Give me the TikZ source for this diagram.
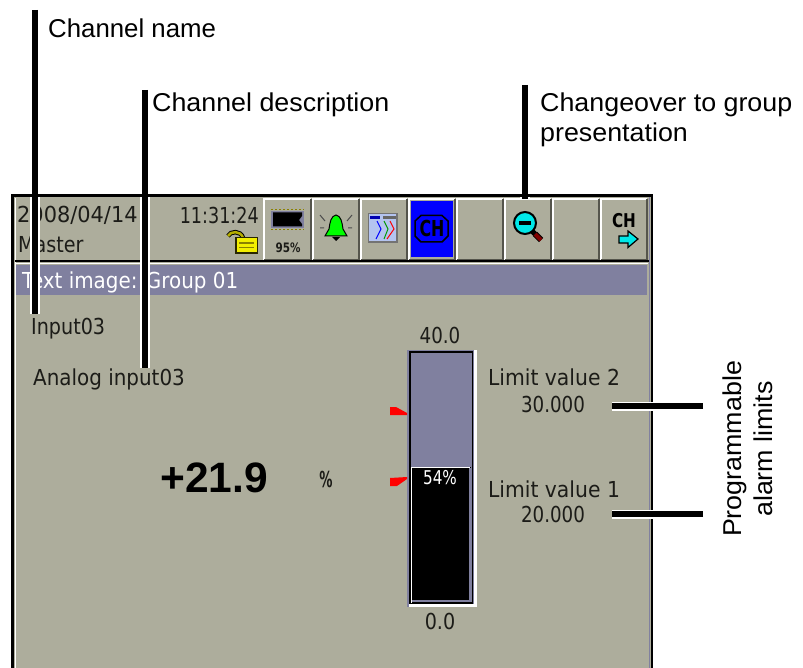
\documentclass[tikz,border=0pt]{standalone}
\usepackage{fontspec}
\setmainfont{Liberation Sans}
\newfontfamily\wideLabel[FakeStretch=1.04]{Liberation Sans}
\newfontfamily\screenfont[FakeStretch=0.87]{DejaVu Sans}
\newfontfamily\screenA[FakeStretch=0.80]{DejaVu Sans}
\newfontfamily\screenB[FakeStretch=0.83]{DejaVu Sans}
\newfontfamily\screenC[FakeStretch=0.905]{DejaVu Sans}
\newfontfamily\screenD[FakeStretch=0.925]{DejaVu Sans}
\newfontfamily\screenE[FakeStretch=0.95]{DejaVu Sans}
\newfontfamily\screenwide{DejaVu Sans}
\definecolor{panel}{HTML}{ADAD9C}
\definecolor{slate}{HTML}{80809F}
\definecolor{ink}{HTML}{1C1C18}
\definecolor{btndark}{HTML}{55554C}
\definecolor{hicyan}{HTML}{00E8E8}
\definecolor{olive}{HTML}{8A8000}
\definecolor{lockyellow}{HTML}{F2EE00}
\definecolor{iconbg}{HTML}{B4C4F0}
\tikzset{
  lbl/.style={font=\fontsize{25.8}{30}\selectfont,inner sep=0pt,text=black},
  lblw/.style={font=\wideLabel\fontsize{25.8}{30}\selectfont,inner sep=0pt,text=black},
  scr/.style={font=\screenfont\fontsize{22}{24}\selectfont,inner sep=0pt,text=ink},
  halo/.style={draw=white,line width=10pt},
  leader/.style={draw=black,line width=5.5pt},
}
\newcommand{\scrsize}{\fontsize{22}{24}\selectfont}
\newcommand{\btnbox}[2]{%
  \fill[panel] (#1,198) rectangle (#2,260);
  \draw[white,line width=1.5pt] (#1+1,260) -- (#1+1,199) -- (#2-1,199);
  \draw[btndark,line width=1.5pt] (#1+1,259.5) -- (#2-1,259.5) -- (#2-1,199);
}
\begin{document}
\begin{tikzpicture}[x=1pt,y=-1pt]
\useasboundingbox (0,0) rectangle (803,668);
\fill[white] (0,0) rectangle (803,668);
% frame
\fill[black] (11,194) rectangle (653,668);
\fill[panel] (14,197) rectangle (651,668);
\draw[slate,line width=1pt] (649.5,197) -- (649.5,668);
\draw[white,line width=1pt] (15,198) -- (15,668);
% status area
\fill[black] (15,260) rectangle (649,262);
\draw[white,line width=1.5pt] (16,263.5) -- (648,263.5);
\btnbox{263}{312}\btnbox{312}{360}\btnbox{360}{408}\btnbox{408}{456}
\btnbox{456}{504}\btnbox{504}{552}\btnbox{552}{600}\btnbox{600}{648}
% title bar
\fill[slate] (16,265) rectangle (647,295);
\node[scr,anchor=west,text=white,font=\screenC\scrsize] (title) at (22,282) {Text image: Group 01};
\node[scr,anchor=west,font=\screenE\scrsize] (date) at (17,215) {2008/04/14};
\node[scr,anchor=east,font=\screenA\scrsize] (time) at (259,215) {11:31:24};
\node[scr,anchor=west] (master) at (18,245) {Master};
% lock
\draw[black,line width=4.5pt] (228,236) .. controls (230,231) and (241,230) .. (243,238);
\draw[olive!60!lockyellow,line width=2.5pt] (228,236) .. controls (230,231) and (241,230) .. (243,238);
\fill[black!70!olive] (235,237) rectangle (258,254);
\fill[lockyellow] (236.5,238.5) rectangle (256.5,252.5);
\draw[olive,line width=1.2pt] (239,243) -- (254,243) (239,247.5) -- (254,247.5);
% memory
\fill[slate] (271,211) rectangle (304,228);
\fill[black] (273,212.5) -- (302,212.5) -- (302,216) -- (299,220) -- (302,224) -- (302,226.5) -- (273,226.5) -- cycle;
\draw[olive,line width=1.2pt,dash pattern=on 2pt off 2pt] (271,209.5) -- (304,209.5) (271,229.5) -- (304,229.5);
\node[font=\screenA\bfseries\fontsize{13}{14}\selectfont,inner sep=0pt,text=ink] (mem) at (288,248) {95\%};
% bell
\fill[green,draw=black,line width=1pt] (336,215) .. controls (341,216) and (342,222) .. (343,229) -- (347,236) -- (325,236) -- (329,229) .. controls (330,222) and (331,216) .. (336,215) -- cycle;
\fill[black] (332,237) -- (340,237) -- (336,241) -- cycle;
\draw[black!70,line width=1pt] (320,215) -- (325,221) (352,215) -- (347,221) (320,228) -- (324,228) (352,228) -- (348,228);
% trend icon
\fill[black!55] (368,213) rectangle (398,243);
\fill[iconbg] (369,214) rectangle (396,241);
\fill[blue!70!black] (370,216) rectangle (380,219);
\fill[black!60] (383,216) rectangle (396,219);
\draw[blue,line width=1pt] (377,221) -- (381,229) -- (376,239);
\draw[green!60!black,line width=1pt] (384,221) -- (388,229) -- (384,239);
\draw[red,line width=1pt] (390,221) -- (394,229) -- (387,239);
% CH active
\fill[blue] (411,201) rectangle (453,257);
\draw[black,line width=1.5pt] (421,215.5) -- (442,215.5) -- (448,221) -- (448,236) -- (442,242) -- (421,242) -- (415,236) -- (415,221) -- cycle;
\node[font=\screenwide\bfseries\fontsize{22}{23}\selectfont,inner sep=0pt,text=black] (chact) at (432,228.5) {\scalebox{.72}[1]{CH}};
% magnifier
\draw[black,line width=5pt] (532,231) -- (536,235);
\draw[black,line width=6pt] (535,234) -- (541,240);
\draw[red!50!black,line width=4pt] (535,234) -- (541,240);
\fill[hicyan,draw=black,line width=2pt] (525,223) circle (11);
\fill[black] (519,221) rectangle (531,225);
% CH arrow
\node[font=\screenwide\bfseries\fontsize{19}{20}\selectfont,inner sep=0pt,text=black] (chnext) at (624,221) {\scalebox{.8}[1]{CH}};
\fill[hicyan,draw=black,line width=1.2pt] (619,236) -- (628,236) -- (628,231) -- (638,239) -- (628,247.5) -- (628,243) -- (619,243) -- cycle;
% content text
\node[scr,anchor=west] (ch) at (31,329) {Input03};
\node[scr,anchor=west,font=\screenC\scrsize] (desc) at (33,379) {Analog input03};
\node[font=\bfseries\fontsize{42.5}{44}\selectfont,inner sep=0pt,text=black] (val) at (214,478) {+21.9};
\node[font=\screenwide\bfseries\fontsize{22}{23}\selectfont,inner sep=0pt,text=ink] (unit) at (326,479) {\scalebox{.6}[1]{\%}};
\node[scr,font=\screenB\scrsize] (top) at (440,335) {40.0};
\node[scr] (bot) at (440,621) {0.0};
\node[scr,font=\screenD\scrsize] (lv2) at (554,377) {Limit value 2};
\node[scr,font=\screenB\scrsize] (v2) at (553,404) {30.000};
\node[scr,font=\screenD\scrsize] (lv1) at (554,489) {Limit value 1};
\node[scr,font=\screenB\scrsize] (v1) at (553,514) {20.000};
% bar
\fill[slate] (407,350) rectangle (477,607);
\fill[white] (474,350) rectangle (476.5,607);
\fill[white] (409,604) rectangle (476.5,607);
\fill[black] (409,351) rectangle (473,604);
\fill[slate] (411,353) rectangle (472,602);
\fill[black] (411,467) rectangle (471,603);
\draw[white,line width=1pt] (411.5,603) -- (411.5,467.5) -- (470,467.5);
\draw[slate,line width=1.5pt] (470,468) -- (470,601) -- (412,601);
\node[font=\screenA\fontsize{19}{20}\selectfont,inner sep=0pt,text=white] (pct) at (440,478) {54\%};
\fill[red] (390,407) -- (396,407) -- (407,413) -- (407,415) -- (390,415) -- cycle;
\fill[red] (390,478) -- (407,477) -- (407,479) -- (397,486) -- (390,486) -- cycle;
% labels
\node[lbl,anchor=west] (lname) at (48,28) {Channel name};
\node[lblw,anchor=west] (ldesc) at (152,105) {Channel description};
\node[lblw,anchor=west] (lchg1) at (540,105) {Changeover to group};
\node[lblw,anchor=west] (lchg2) at (540,135) {presentation};
\node[lblw,rotate=90] (lprog) at (735,449) {Programmable};
\node[lblw,rotate=90] (lalarm) at (763,449) {alarm limits};
% leaders
\coordinate (a1) at (35,10); \coordinate (a2) at (35,314);
\coordinate (a0) at (35,197);
\coordinate (b1) at (145,90); \coordinate (b2) at (145,368);
\coordinate (b0) at (145,197);
\coordinate (c1) at (525,85); \coordinate (c2) at (525,199);
\coordinate (c0) at (525,197);
\coordinate (d1) at (703,406); \coordinate (d2) at (612,406);
\coordinate (e1) at (703,514); \coordinate (e2) at (612,514);
\draw[halo] (a0) -- (a2);
\draw[halo] (b0) -- (b2);
\draw[halo] (c0) -- (c2);
\draw[halo,line width=9pt] (d1) -- (d2);
\draw[halo,line width=9pt] (e1) -- (e2);
\draw[leader] (a1) -- (a2);
\draw[leader] (b1) -- (b2);
\draw[leader] (c1) -- (c2);
\draw[leader] (d1) -- (d2);
\draw[leader] (e1) -- (e2);
\end{tikzpicture}
\end{document}
